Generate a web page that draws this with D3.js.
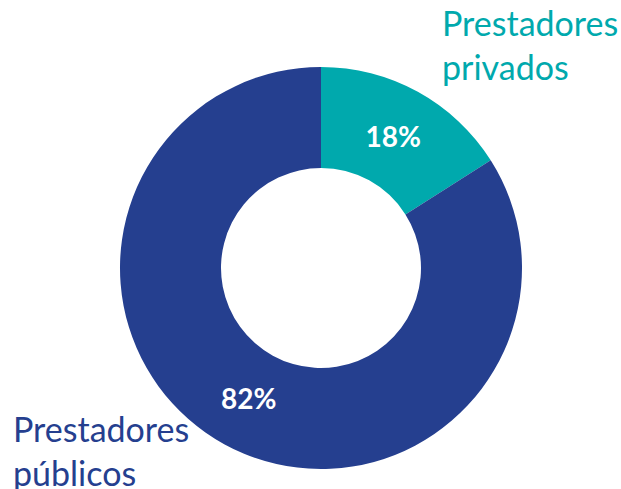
<!DOCTYPE html>
<html><head><meta charset="utf-8">
<script src="https://cdn.jsdelivr.net/npm/d3@7"></script>
<style>html,body{margin:0;padding:0;background:#fff;}svg{display:block;}</style>
</head><body>
<svg id="chart" width="621" height="489"></svg>
<script>
const categories = ["Prestadores privados", "Prestadores públicos"];
const shares = [16, 84];            // arc shares as drawn in the picture
const percentLabels = ["18%", "82%"];
const nameLines = [["Prestadores", "privados"], ["Prestadores", "públicos"]];
const colors = ["#00A9AD", "#253F8F"];

const svg = d3.select("#chart");
const cx = 321, cy = 268, rOuter = 201, rInner = 100;
const g = svg.append("g").attr("transform", `translate(${cx},${cy})`);

const pie = d3.pie().sort(null).value(d => d)(shares);
const arc = d3.arc().innerRadius(rInner).outerRadius(rOuter);
const labelArc = d3.arc().innerRadius(150).outerRadius(150);

g.selectAll("path").data(pie).join("path")
  .attr("d", arc).attr("fill", (d, i) => colors[i]);

g.selectAll("text.pct").data(pie).join("text")
  .attr("class", "pct")
  .attr("x", d => labelArc.centroid(d)[0])
  .attr("y", d => labelArc.centroid(d)[1] + 10)
  .attr("text-anchor", "middle")
  .attr("fill", "#fff")
  .style("font-family", "Lato, 'Open Sans', sans-serif")
  .style("font-weight", "bold")
  .style("font-size", "28px")
  .text((d, i) => percentLabels[i]);

// Category names
const namePos = [{x: 442, y: 36}, {x: 13, y: 442}];
nameLines.forEach((lines, i) => {
  const t = svg.append("text")
    .attr("x", namePos[i].x).attr("y", namePos[i].y)
    .attr("fill", colors[i])
    .style("font-family", "Lato, 'Open Sans', sans-serif")
    .style("font-size", "34px");
  lines.forEach((l, j) => {
    t.append("tspan").attr("x", namePos[i].x).attr("dy", j === 0 ? 0 : 44).text(l);
  });
});
</script>
</body></html>
